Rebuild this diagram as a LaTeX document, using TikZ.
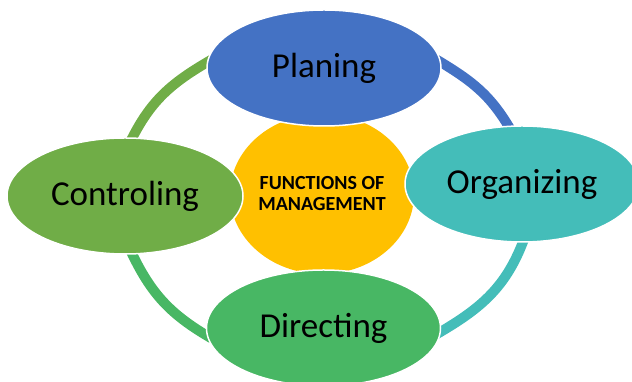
\documentclass[tikz,border=0pt]{standalone}
\usepackage{xcolor}
\usepackage{fontspec}
\setmainfont{Carlito}
\usepackage{tikz}
\usetikzlibrary{shapes.geometric, arrows.meta, positioning}
\definecolor{planblue}{RGB}{68,114,196}
\definecolor{orgteal}{RGB}{68,189,185}
\definecolor{ctrlgreen}{RGB}{112,173,71}
\definecolor{dirgreen}{RGB}{72,183,100}
\definecolor{coregold}{RGB}{255,192,0}
\pgfdeclarelayer{bg}
\pgfsetlayers{bg,main}
\tikzset{
  stage/.style={ellipse, draw=white, line width=1.5pt, inner sep=0pt, outer sep=0pt,
    minimum width=234pt, minimum height=116pt,
    font=\fontsize{35}{40}\selectfont},
  core/.style={ellipse, fill=coregold, inner sep=0pt, outer sep=0pt,
    minimum width=184pt, minimum height=160pt, align=center,
    font=\fontsize{20}{21}\selectfont\bfseries},
  ring/.style={line width=10pt, shorten <=-5pt, shorten >=-5pt}
}
\begin{document}
\begin{tikzpicture}[x=1pt, y=1pt]
  \useasboundingbox (0,0) rectangle (632,382);
  \node[core] (fm) at (322,188) {FUNCTIONS OF\\MANAGEMENT};
  \node[stage, fill=planblue] (plan) at (324,314) {Planing};
  \node[stage, fill=orgteal] (org) at (522,198) {Organizing};
  \node[stage, fill=ctrlgreen, minimum width=236pt] (ctrl) at (125,186) {Controling};
  \node[stage, fill=dirgreen] (dir) at (323.5,54) {Directing};
  % the cycle behind the four stages
  \begin{pgfonlayer}{bg}
    \draw[ring, ctrlgreen] (ctrl.83) to[out=64, in=210] (plan.177);
    \draw[ring, planblue] (plan.3) to[out=-31, in=120] (org.103);
    \draw[ring, orgteal] (org.-89) to[out=-110, in=30] (dir.-2);
    \draw[ring, dirgreen] (dir.184) to[out=150, in=-65] (ctrl.-83);
  \end{pgfonlayer}
\end{tikzpicture}
\end{document}
